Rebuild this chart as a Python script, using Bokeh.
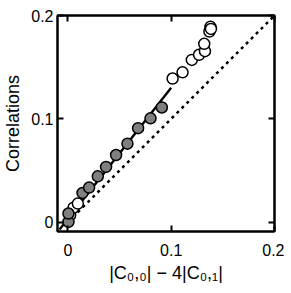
from bokeh.plotting import figure
from bokeh.models import LinearAxis, FixedTicker, Range1d
from bokeh.embed import file_html
from bokeh.resources import INLINE

# filled (gray) points
fill_x = [0.0006, 0.0006, 0.0142, 0.0206, 0.029, 0.037, 0.0467, 0.0577, 0.068, 0.080, 0.091]
fill_y = [0.0003, 0.0084, 0.0283, 0.0335, 0.0444, 0.0535, 0.065, 0.076, 0.091, 0.1005, 0.111]
fill_err = [0.003, 0.003, 0.004, 0.004, 0.004, 0.004, 0.004, 0.005, 0.005, 0.005, 0.005]

# open points
open_x = [0.0022, 0.0055, 0.0097, 0.1014, 0.111, 0.120, 0.127, 0.1327, 0.132, 0.137, 0.138, 0.1385]
open_y = [0.0068, 0.014, 0.018, 0.139, 0.145, 0.157, 0.162, 0.1655, 0.1726, 0.1845, 0.189, 0.187]
open_err = [0.003, 0.003, 0.003, 0.005, 0.005, 0.005, 0.005, 0.005, 0.005, 0.005, 0.005, 0.005]

# fit line and identity line
fit_x = [-0.008, 0.1]
fit_y = [-0.007, 0.13]
id_x = [0.0, 0.2]
id_y = [0.0, 0.2]

x_ticks = [0, 0.1, 0.2]
y_ticks = [0, 0.1, 0.2]
x_tick_labels = {0: "0", 0.1: "0.1", 0.2: "0.2"}
y_tick_labels = {0: "0", 0.1: "0.1", 0.2: "0.2"}

FONT = "Liberation Sans"

p = figure(frame_width=217, frame_height=216, output_backend="svg", toolbar_location=None,
           x_range=Range1d(-0.01, 0.2), y_range=Range1d(-0.009, 0.2),
           min_border_left=56, min_border_right=10, min_border_top=15, min_border_bottom=54,
           x_axis_label="|C₀,₀| − 4|C₀,₁|", y_axis_label="Correlations")
p.grid.visible = False
p.outline_line_color = "black"
p.outline_line_width = 2
p.background_fill_color = "white"
p.border_fill_color = "white"

for ax, ticks, labels in ((p.xaxis[0], x_ticks, x_tick_labels), (p.yaxis[0], y_ticks, y_tick_labels)):
    ax.ticker = FixedTicker(ticks=ticks)
    ax.major_label_overrides = labels
    ax.minor_tick_line_color = None
    ax.major_tick_in = 6
    ax.major_tick_out = 0
    ax.major_tick_line_width = 2
    ax.axis_line_width = 2
    ax.major_label_text_font = FONT
    ax.major_label_text_font_size = "16px"
    ax.major_label_text_color = "black"
    ax.axis_label_text_font = FONT
    ax.axis_label_text_font_size = "18px"
    ax.axis_label_text_font_style = "normal"
    ax.axis_label_text_color = "black"

p.xaxis[0].major_label_standoff = 12
p.xaxis[0].axis_label_standoff = 4
p.yaxis[0].major_label_standoff = 4
p.yaxis[0].axis_label_standoff = 5

for loc, ticks in (("above", x_ticks), ("right", y_ticks)):
    ax = LinearAxis(ticker=FixedTicker(ticks=ticks), major_label_text_font_size="1px",
                    major_label_text_color=None, major_tick_in=6, major_tick_out=0,
                    major_tick_line_width=2, axis_line_width=2,
                    minor_tick_line_color=None, major_label_standoff=0)
    p.add_layout(ax, loc)

# lines
p.line(id_x, id_y, line_color="black", line_width=2.5, line_dash="3 4")
p.line(fit_x, fit_y, line_color="black", line_width=2.4)

# error bars
p.segment(x0=fill_x, y0=[y - e for y, e in zip(fill_y, fill_err)],
          x1=fill_x, y1=[y + e for y, e in zip(fill_y, fill_err)],
          line_color="black", line_width=1.5)
p.segment(x0=open_x, y0=[y - e for y, e in zip(open_y, open_err)],
          x1=open_x, y1=[y + e for y, e in zip(open_y, open_err)],
          line_color="black", line_width=1.5)

p.scatter(open_x, open_y, size=11, marker="circle", fill_color="white",
          line_color="black", line_width=1.5)
p.scatter(fill_x, fill_y, size=11, marker="circle", fill_color="#7f7f7f",
          line_color="black", line_width=1.5)

open("out.html", "w").write(file_html(p, INLINE))
